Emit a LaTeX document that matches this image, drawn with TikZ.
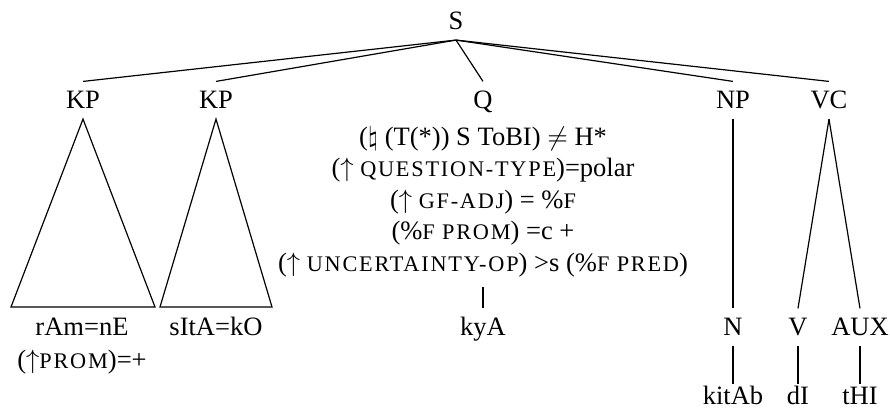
\documentclass[tikz,border=0pt]{standalone}
\usepackage{fontspec}
\setmainfont{Liberation Serif}
\usetikzlibrary{positioning}
\newcommand\fsc[1]{{\fontsize{8.4}{8}\selectfont\addfontfeatures{LetterSpace=8}#1}}

\begin{document}
\begin{tikzpicture}[
  x=0.377pt,y=-0.377pt,
  font=\fontsize{10}{12}\selectfont,
  cat/.style={inner xsep=0pt,inner ysep=3.6pt,text height=6.6pt,text depth=0pt,anchor=base},
  word/.style={inner xsep=0pt,inner ysep=1pt,text height=6.8pt,text depth=0pt,anchor=base},
  qline/.style={inner xsep=0pt,inner ysep=5.6pt,text depth=0pt,anchor=base},
  edge/.style={line width=0.45pt},
]
\useasboundingbox (0,0) rectangle (890,419);

% root and daughters
\node[cat] (S)   at (456,30)  {S};
\node[cat] (KP1) at (83,109)  {KP};
\node[cat] (KP2) at (216,109) {KP};
\node[cat] (Q)   at (483,109) {Q};
\node[cat] (NP)  at (733,109) {NP};
\node[cat] (VC)  at (829,109) {VC};

\foreach \d in {KP1,KP2,Q,NP,VC}
  \draw[edge] (S.south) -- (\d.north);

% annotations under Q
\node[qline] (q1) at (483,146) {($\natural$ (T(*)) S ToBI) $\neq$ H*};
\node[qline] (q2) at (483,177) {($\uparrow$ \fsc{QUESTION-TYPE})=polar};
\node[qline] (q3) at (483,209) {($\uparrow$ \fsc{GF-ADJ}) = \%\fsc{F}};
\node[qline] (q4) at (483,240) {(\%\fsc{F PROM}) =c +};
\node[qline] (q5) at (483,272) {($\uparrow$ \fsc{UNCERTAINTY-OP}) >s (\%\fsc{F PRED})};

% KP triangles
\coordinate (t1l) at (11,307);
\coordinate (t1r) at (155,307);
\coordinate (t2l) at (160,307);
\coordinate (t2r) at (272,307);
\draw[edge] (KP1.south) -- (t1l) -- (t1r) -- cycle;
\draw[edge] (KP2.south) -- (t2l) -- (t2r) -- cycle;

\node[cat] (ram)  at (82,336)  {rAm=nE};
\node[cat] (prom) at (82,369)  {($\uparrow$\fsc{PROM})=+};
\node[cat] (sita) at (216,336) {sItA=kO};
\node[cat] (kya)  at (483,336) {kyA};
\draw[edge] (q5.south) -- (kya.north);

% preterminals
\node[cat] (N)   at (733,336) {N};
\node[cat] (V)   at (798,336) {V};
\node[cat] (AUX) at (860,336) {AUX};
\draw[edge] (NP.south) -- (N.north);
\draw[edge] (VC.south) -- (V.north);
\draw[edge] (VC.south) -- (AUX.north);

% words
\node[word] (kitab) at (733,405) {kitAb};
\node[word] (di)    at (798,405) {dI};
\node[word] (thi)   at (860,405) {tHI};
\draw[edge] (N.south) -- (kitab.north);
\draw[edge] (V.south) -- (di.north);
\draw[edge] (AUX.south) -- (thi.north);

\end{tikzpicture}
\end{document}
